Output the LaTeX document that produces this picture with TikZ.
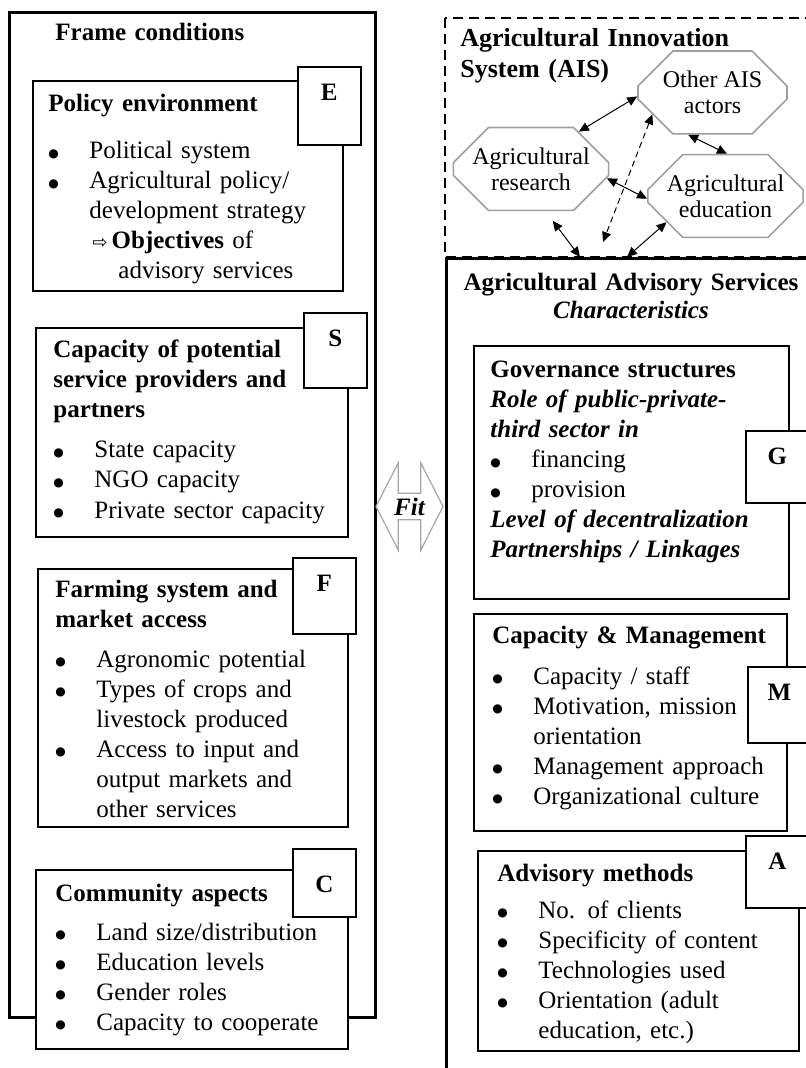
\documentclass[tikz,border=0pt]{standalone}
\usepackage{fontspec}
\setmainfont{Liberation Serif}
\newfontfamily\symfont{DejaVu Sans}
\usetikzlibrary{arrows.meta,shapes.misc,shapes.arrows}

\newcommand\bul{\makebox[20.5pt][l]{\raisebox{0.6pt}{\symfont\fontsize{6}{6}\selectfont ●}}}
\newcommand\ind{\hspace*{20.5pt}}

\tikzset{
  box/.style={draw, fill=white, line width=0.8pt, anchor=north west, inner sep=0pt},
  tag/.style={draw, fill=white, line width=0.8pt, anchor=north west, inner sep=0pt,
    minimum width=31.5pt, text height=17pt, font=\bfseries\fontsize{12.5}{15}\selectfont},
  txt/.style={anchor=base west, inner sep=0pt, align=left, text width=160pt,
    font=\fontsize{12.5}{15}\selectfont},
  oct/.style={chamfered rectangle, chamfered rectangle xsep=8.5pt,
    chamfered rectangle ysep=9pt, draw=gray!75, line width=0.8pt, fill=white,
    align=center, inner sep=1pt, font=\fontsize{12}{13}\selectfont},
  fitarrow/.style={double arrow, draw=gray!70, line width=0.6pt, fill=white,
    double arrow head extend=10.75pt, double arrow tip angle=126,
    inner sep=0pt, minimum height=33.5pt, minimum width=43.5pt,
    font=\bfseries\itshape\fontsize{12.5}{15}\selectfont},
  link/.style={<->, >={Triangle[length=5pt,width=4.5pt]}, line width=0.5pt},
}

\begin{document}
\begin{tikzpicture}[x=0.5pt,y=-0.5pt]
\clip (0,0) rectangle (806,1068);
\fill[white] (0,0) rectangle (806,1068);

% --------------------
% Frame conditions
% --------------------
\draw[line width=1.5pt] (9,13) rectangle (375,1017);
\node[txt, font=\bfseries\fontsize{12.5}{15}\selectfont] (frame) at (55,41) {Frame conditions};

% Policy environment
\node[box, minimum width=155pt, minimum height=105pt] (pol) at (32,80) {};
\node[txt] (poltext) at (48,112) {\textbf{Policy environment}\\[8.5pt]
  \bul Political system\\
  \bul Agricultural policy/\\
  \ind development strategy\\
  \hspace*{22pt}{\symfont\small ⇨}\,\textbf{Objectives} of\\
  \hspace*{35pt}advisory services};
\node[tag, text depth=22pt] (E) at (297,66) {E};

% Capacity of providers
\node[box, minimum width=156pt, minimum height=104.5pt] (cap) at (35,327) {};
\node[txt] (captext) at (53,358) {\textbf{Capacity of potential}\\
  \textbf{service providers and}\\
  \textbf{partners}\\[5pt]
  \bul State capacity\\
  \bul NGO capacity\\
  \bul Private sector capacity};
\node[tag, text depth=20.5pt] (S) at (303,312) {S};

% Farming system
\node[box, minimum width=155pt, minimum height=129pt] (farm) at (37,568) {};
\node[txt] (farmtext) at (55,597) {\textbf{Farming system and}\\
  \textbf{market access}\\[5pt]
  \bul Agronomic potential\\
  \bul Types of crops and\\
  \ind livestock produced\\
  \bul Access to input and\\
  \ind output markets and\\
  \ind other services};
\node[tag, text depth=21pt] (F) at (292,557) {F};

% Community aspects
\node[box, minimum width=156pt, minimum height=89.5pt] (comm) at (35,869) {};
\node[txt] (commtext) at (55,901) {\textbf{Community aspects}\\[4.5pt]
  \bul Land size/distribution\\
  \bul Education levels\\
  \bul Gender roles\\
  \bul Capacity to cooperate};
\node[tag, text height=22pt, text depth=12pt] (C) at (292,848) {C};

% --------------------
% Fit arrow
% --------------------
\node[fitarrow] (fit) at (409.5,506.5) {\hspace*{-2pt}Fit\hspace*{-2pt}};

% --------------------
% Agricultural Innovation System
% --------------------
\draw[dash pattern=on 5pt off 3pt, line width=0.7pt] (445,18) rectangle (815,257);
\node[txt, font=\bfseries\fontsize{13}{15.5}\selectfont] (aistitle) at (460,47)
  {Agricultural Innovation\\System (AIS)};

\node[oct, minimum width=74.5pt, minimum height=34.5pt] (other) at (712.5,92.5) {Other AIS\\actors};
\node[oct, minimum width=74pt, minimum height=34pt] (research) at (531,169) {Agricultural\\research};
\node[oct, minimum width=77.5pt, minimum height=34pt] (education) at (725.5,196) {Agricultural\\education};

% --------------------
% Agricultural Advisory Services
% --------------------
\draw[line width=1.5pt] (446,1080) -- (446,259) -- (815,259);
\node[txt, anchor=base, align=center, text width=200pt,
  font=\bfseries\fontsize{12.5}{14}\selectfont] (aastitle) at (631,291)
  {Agricultural Advisory Services\\\textit{Characteristics}};

\coordinate (ea) at (580,257);
\coordinate (eb) at (603,242);
\coordinate (ec) at (627,257);

\draw[link] (research.38) -- (other.183);
\draw[link] (other.240) -- (education.88);
\draw[link] (research.-7) -- (education.182);
\draw[link, densely dashed] (other.200) -- (eb);
\draw[link, shorten <=6pt] (research.-71) -- (ea);
\draw[link] (education.204) -- (ec);

% Governance
\node[box, minimum width=157.5pt, minimum height=126.5pt] (gov) at (473,345) {};
\node[txt] (govtext) at (490,378) {\textbf{Governance structures}\\
  \textbf{\textit{Role of public-private-}}\\
  \textbf{\textit{third sector in}}\\
  \bul financing\\
  \bul provision\\
  \textbf{\textit{Level of decentralization}}\\
  \textbf{\textit{Partnerships / Linkages}}};
\node[tag, text depth=19pt] (G) at (745,430) {G};

% Capacity and management
\node[box, minimum width=156.5pt, minimum height=108.5pt] (mgmt) at (473,613) {};
\node[txt] (mgmttext) at (492,643) {\textbf{Capacity \& Management}\\[5.5pt]
  \bul Capacity / staff\\
  \bul Motivation, mission\\
  \ind orientation\\
  \bul Management approach\\
  \bul Organizational culture};
\node[tag, text depth=21pt] (M) at (747,666) {M};

% Advisory methods
\node[box, minimum width=160.5pt, minimum height=100pt] (adv) at (477,850) {};
\node[txt] (advtext) at (497,881) {\textbf{Advisory methods}\\[3.5pt]
  \bul No. of clients\\
  \bul Specificity of content\\
  \bul Technologies used\\
  \bul Orientation (adult\\
  \ind education, etc.)};
\node[tag, text depth=19pt] (A) at (745,835) {A};

\end{tikzpicture}
\end{document}
